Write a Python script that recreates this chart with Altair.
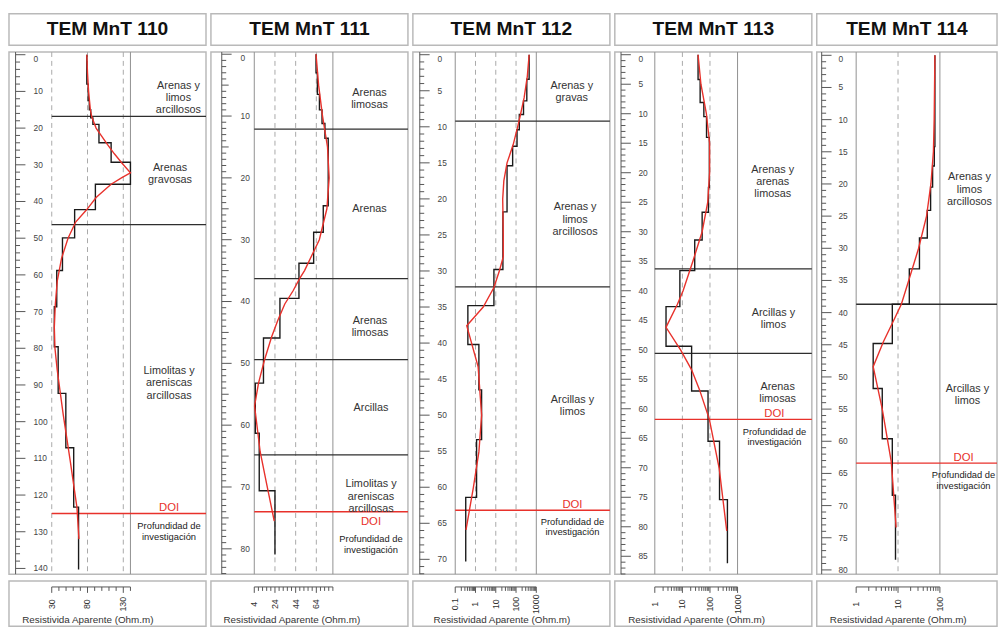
import math
import altair as alt
import pandas as pd

FONT = "Liberation Sans"

# ---------------------------------------------------------------- data
titles = ["TEM MnT 110", "TEM MnT 111", "TEM MnT 112", "TEM MnT 113", "TEM MnT 114"]
axis_titles = ["Resistivida Aparente (Ohm.m)", "Resistividad Aparente (Ohm.m)",
               "Resistividad Aparente (Ohm.m)", "Resistividad Aparente (Ohm.m)",
               "Resistividad Aparente (Ohm.m)"]

res_lo = [30, 4, 0.1, 1, 1]
res_hi = [140, 80, 1000, 1000, 100]
res_log = [False, False, True, True, True]
grid_solid = [[140], [4, 80], [0.1, 1000], [1, 1000], [1, 100]]
grid_dashed = [[30, 80, 130], [24, 44, 64], [1, 10, 100], [10, 100], [10]]
res_labels = [[30, 80, 130], [4, 24, 44, 64], [0.1, 1, 10, 100, 1000],
              [1, 10, 100, 1000], [1, 10, 100]]

depth_labels = [
    [0, 10, 20, 30, 40, 50, 60, 70, 80, 90, 100, 110, 120, 130, 140],
    [0, 10, 20, 30, 40, 50, 60, 70, 80],
    [0, 5, 10, 15, 20, 25, 30, 35, 40, 45, 50, 55, 60, 65, 70],
    [0, 5, 10, 15, 20, 25, 30, 35, 40, 45, 50, 55, 60, 65, 70, 75, 80, 85],
    [0, 5, 10, 15, 20, 25, 30, 35, 40, 45, 50, 55, 60, 65, 70, 75, 80],
]

# layered (step) models: layer top depth (m) and resistivity (Ohm.m)
m110_top = [0, 8, 12.5, 15, 17.2, 19, 24, 29.3, 35.3, 42.2, 49.9, 58.8, 68.7, 79.6, 92.3, 107.1, 123.3]
m110_rho = [79, 81, 82.5, 84.5, 87.5, 96, 113, 140, 91, 62, 45, 37, 33.6, 39, 49.7, 60.7, 67.5]
m110_base = 140.3
m111_top = [0, 3, 6.5, 9, 11.2, 13.6, 24.5, 28.8, 33.8, 39.5, 45.9, 53.2, 61.3, 70.6]
m111_rho = [63.7, 65, 67, 69.5, 72.3, 75.5, 70.7, 61.4, 47.2, 28.8, 12.9, 5, 8.8, 24]
m111_base = 80.9
m112_top = [0, 3.4, 6.4, 8.3, 10.4, 12.7, 15.4, 21.8, 29.8, 34.8, 40.2, 46.5, 53.4, 61.4]
m112_rho = [443, 340, 234, 145, 112, 68, 36, 22.5, 8.1, 0.42, 1.47, 2.0, 1.13, 0.33]
m112_base = 70.3
m113_top = [0, 4.2, 8.1, 10.5, 14, 22.5, 26.7, 31.4, 36.6, 42.7, 49.4, 57.0, 65.5, 75.4]
m113_rho = [37, 44, 60, 75, 95, 88, 52, 28, 8.1, 2.55, 21.6, 85, 222, 429]
m113_base = 86.2
m114_top = [0, 14.2, 17.2, 20.5, 24.1, 28.4, 33.2, 38.7, 44.8, 51.8, 59.6, 68.4]
m114_rho = [76, 73.5, 67, 60, 50, 32.5, 18.6, 7.3, 2.55, 4.2, 7.3, 8.7]
m114_base = 78.4

# smooth (red) curves: depth and resistivity
c110_depth = [0, 5, 10, 15, 17, 20, 22, 24.5, 27, 29.5, 32.2, 33.5, 35.3, 37, 38.9, 42.2, 45.6, 50,
              55.5, 61.7, 68, 74.3, 80, 86, 98, 110.9, 123.5, 132]
c110_rho = [79, 80, 81.5, 84, 86, 92, 99, 108, 117.5, 128, 140, 128, 113, 103, 92, 79, 63.4, 52.8,
            43.7, 37.7, 35, 33.6, 34.5, 37.7, 46, 56, 65.3, 68]
c111_depth = [0, 5, 10, 15, 20, 25, 30, 35, 36.3, 38.3, 40.4, 43.1, 45.7, 49.5, 53.2, 56.9, 64.3, 69.6, 75.5]
c111_rho = [63.7, 66.2, 70, 74.8, 76.4, 74.2, 66.9, 52.6, 47.8, 41.4, 33.5, 26.6, 20.8, 13.8, 8.1, 4.3,
            9.7, 16.1, 23.3]
c112_depth = [0, 3, 6, 8.5, 10, 12.5, 15, 17.5, 20, 25, 28, 30, 32.3, 35, 37.6, 43.3, 50, 55.1, 60.1, 65.9]
c112_rho = [443, 360, 250, 160, 120, 72, 36, 25, 22, 23.5, 23.5, 15, 8.1, 2.4, 0.37, 1.35, 2.0, 1.47,
            0.78, 0.34]
c113_depth = [0, 5, 10, 15, 20, 25, 30, 35, 40, 42.3, 46.2, 50.1, 53.4, 56.8, 61.8, 70.1, 80.7]
c113_rho = [37, 47, 74, 97, 97, 83, 52, 24, 10.6, 6.6, 2.55, 8.8, 21.6, 42, 95, 216, 405]
c114_depth = [0, 10, 15, 20, 25, 30, 35, 38.7, 41.5, 44.5, 48.4, 55, 63.2, 73.4]
c114_rho = [76, 73, 70, 61, 48, 31, 18, 12, 7.5, 4.5, 2.55, 4.2, 6.9, 9.0]

model_tops = [m110_top, m111_top, m112_top, m113_top, m114_top]
model_rhos = [m110_rho, m111_rho, m112_rho, m113_rho, m114_rho]
model_bases = [m110_base, m111_base, m112_base, m113_base, m114_base]
curve_depths = [c110_depth, c111_depth, c112_depth, c113_depth, c114_depth]
curve_rhos = [c110_rho, c111_rho, c112_rho, c113_rho, c114_rho]

boundaries = [[16.8, 46.3], [12.1, 36.3, 49.4, 64.8], [9.2, 32.2], [36.3, 50.6], [38.7]]
doi_depth = [125.0, 74.0, 63.2, 61.8, 63.4]

unit_texts = [
    ["Arenas y\nlimos\narcillosos", "Arenas\ngravosas", "Limolitas y\nareniscas\narcillosas"],
    ["Arenas\nlimosas", "Arenas", "Arenas\nlimosas", "Arcillas", "Limolitas y\nareniscas\narcillosas"],
    ["Arenas y\ngravas", "Arenas y\nlimos\narcillosos", "Arcillas y\nlimos"],
    ["Arenas y\narenas\nlimosas", "Arcillas y\nlimos", "Arenas\nlimosas"],
    ["Arenas y\nlimos\narcillosos", "Arcillas y\nlimos"],
]
unit_depths = [[8.5, 30.9, 86.3], [6.2, 25.0, 43.1, 57.3, 69.6], [4.3, 21.2, 47.9],
               [19.5, 43.8, 56.3], [19.0, 51.9]]
doi_label_depth = [123.6, 75.6, 62.4, 60.9, 62.6]
prof_label_depth = [128.5, 78.5, 64.85, 63.9, 65.3]
doi_label = "DOI"
prof_label = "Profundidad de\ninvestigación"

# ---------------------------------------------------------------- layout (pixels)
H_TITLE, H_MAIN, H_BOT = 32, 530, 46
layout = [
    dict(w=200, p_lo=43.4, p_hi=123.3, ruler=6.7, label=25, y0=2.7, k=3.725, tx=13.4,
         minor=2, medium=None, major=10, dmax=140, text_x=[172, 163.5, 162.5], doi_x=162.5),
    dict(w=200, p_lo=44, p_hi=123.8, ruler=11, label=30, y0=2.2, k=6.276, tx=12.7,
         minor=1, medium=5, major=10, dmax=84, text_x=[161, 161, 161.5, 162.5, 162.5], doi_x=162.5),
    dict(w=200, p_lo=43, p_hi=125.3, ruler=7, label=25, y0=2.7, k=7.318, tx=21,
         minor=1, medium=None, major=5, dmax=72, text_x=[161.3, 164.7, 162], doi_x=162),
    dict(w=200, p_lo=40.6, p_hi=124.6, ruler=6.3, label=24, y0=2.7, k=5.99, tx=13.6,
         minor=1, medium=None, major=5, dmax=88, text_x=[160.3, 161, 165.3], doi_x=162),
    dict(w=183, p_lo=40, p_hi=125, ruler=5, label=22, y0=3.3, k=6.53, tx=13.3,
         minor=1, medium=None, major=5, dmax=80, text_x=[155, 153], doi_x=149),
]

BLACK = "#1a1a1a"
RED = "#e8312b"
GRAY = "#8f8f8f"
RULER = "#555555"


def xspace(i):
    L = layout[i]
    if res_log[i]:
        a, b = math.log10(res_lo[i]), math.log10(res_hi[i])
    else:
        a, b = res_lo[i], res_hi[i]
    s = (L["p_hi"] - L["p_lo"]) / (b - a)
    return a - L["p_lo"] / s, s


def px2val(i, px):
    start, s = xspace(i)
    t = start + px / s
    return 10 ** t if res_log[i] else t


def res_ticks(i):
    if res_log[i]:
        e0, e1 = round(math.log10(res_lo[i])), round(math.log10(res_hi[i]))
        vals = [m * 10.0 ** e for e in range(e0, e1) for m in range(1, 10)]
        return vals + [res_hi[i]]
    step = 10 if i == 0 else 4
    return list(range(res_lo[i], res_hi[i] + 1, step))


def fmt(v):
    return "{:g}".format(v)


def panel(i):
    L = layout[i]
    W = L["w"]
    xdom = [px2val(i, 0), px2val(i, W)]
    xs = alt.Scale(type="log" if res_log[i] else "linear", domain=xdom, nice=False, zero=False)
    dtop = -L["y0"] / L["k"]
    ys = alt.Scale(domain=[dtop, dtop + H_MAIN / L["k"]], reverse=True, nice=False, zero=False)

    def X(f):
        return alt.X(f, scale=xs, axis=None)

    def Y(f):
        return alt.Y(f, scale=ys, axis=None)

    layers = []
    layers.append(alt.Chart(pd.DataFrame({"v": grid_dashed[i]})).mark_rule(
        color="#a9a9a9", strokeWidth=1, strokeDash=[5, 4]).encode(x=X("v:Q")))
    layers.append(alt.Chart(pd.DataFrame({"v": grid_solid[i]})).mark_rule(
        color=GRAY, strokeWidth=1).encode(x=X("v:Q")))

    bdf = pd.DataFrame({"d": boundaries[i], "a": res_lo[i], "b": xdom[1]})
    layers.append(alt.Chart(bdf).mark_rule(color="#2e2e2e", strokeWidth=1.3).encode(
        y=Y("d:Q"), x=X("a:Q"), x2="b:Q"))
    ddf = pd.DataFrame({"d": [doi_depth[i]], "a": [res_lo[i]], "b": [xdom[1]]})
    layers.append(alt.Chart(ddf).mark_rule(color=RED, strokeWidth=1.5).encode(
        y=Y("d:Q"), x=X("a:Q"), x2="b:Q"))

    # step model
    tops, rhos = model_tops[i], model_rhos[i]
    bottoms = tops[1:] + [model_bases[i]]
    rows = []
    for t, b, r in zip(tops, bottoms, rhos):
        rows.append({"d": t, "r": r, "o": len(rows)})
        rows.append({"d": b, "r": r, "o": len(rows)})
    layers.append(alt.Chart(pd.DataFrame(rows)).mark_line(color=BLACK, strokeWidth=1.4).encode(
        x=X("r:Q"), y=Y("d:Q"), order="o:Q"))

    cdf = pd.DataFrame({"d": curve_depths[i], "r": curve_rhos[i],
                        "o": list(range(len(curve_depths[i])))})
    layers.append(alt.Chart(cdf).mark_line(color=RED, strokeWidth=1.4).encode(
        x=X("r:Q"), y=Y("d:Q"), order="o:Q"))

    # depth ruler: spine, ticks, labels
    layers.append(alt.Chart(pd.DataFrame({"v": [px2val(i, L["ruler"])]})).mark_rule(
        color=RULER, strokeWidth=1).encode(x=X("v:Q")))
    trows = []
    d = 0
    while d <= L["dmax"]:
        if d % L["major"] == 0:
            ln = 10
        elif L["medium"] and d % L["medium"] == 0:
            ln = 7
        else:
            ln = 4.5
        trows.append({"d": d, "a": px2val(i, L["ruler"]), "b": px2val(i, L["ruler"] + ln)})
        d += L["minor"]
    layers.append(alt.Chart(pd.DataFrame(trows)).mark_rule(color=RULER, strokeWidth=1).encode(
        y=Y("d:Q"), x=X("a:Q"), x2="b:Q"))
    lab = pd.DataFrame({"d": depth_labels[i], "t": [fmt(v) for v in depth_labels[i]],
                        "x": px2val(i, L["label"])})
    layers.append(alt.Chart(lab[lab.d == 0]).mark_text(
        font=FONT, fontSize=8.5, color="#444444", align="left", baseline="top").encode(
        x=X("x:Q"), y=Y("d:Q"), text="t:N"))
    layers.append(alt.Chart(lab[lab.d != 0]).mark_text(
        font=FONT, fontSize=8.5, color="#444444", align="left", baseline="middle").encode(
        x=X("x:Q"), y=Y("d:Q"), text="t:N"))

    # lithology and DOI texts
    tdf = pd.DataFrame({"t": unit_texts[i], "d": unit_depths[i],
                        "x": [px2val(i, p) for p in L["text_x"]]})
    layers.append(alt.Chart(tdf).mark_text(
        font=FONT, fontSize=11, color="#333333", lineBreak="\n", lineHeight=12.3,
        align="center", baseline="middle", clip=True).encode(x=X("x:Q"), y=Y("d:Q"), text="t:N"))
    xdoi = px2val(i, L["doi_x"])
    layers.append(alt.Chart(pd.DataFrame({"t": [doi_label], "d": [doi_label_depth[i]], "x": [xdoi]}))
                  .mark_text(font=FONT, fontSize=11.5, color=RED, align="center", baseline="middle",
                             clip=True)
                  .encode(x=X("x:Q"), y=Y("d:Q"), text="t:N"))
    layers.append(alt.Chart(pd.DataFrame({"t": [prof_label], "d": [prof_label_depth[i]], "x": [xdoi]}))
                  .mark_text(font=FONT, fontSize=9.5, color="#222222", lineBreak="\n", lineHeight=10.5,
                             align="center", baseline="middle", clip=True)
                  .encode(x=X("x:Q"), y=Y("d:Q"), text="t:N"))

    main = alt.layer(*layers).properties(width=W, height=H_MAIN)

    title = alt.Chart(pd.DataFrame({"t": [titles[i]]})).mark_text(
        font=FONT, fontSize=19.5, fontWeight="bold", color="#111111",
        align="center", baseline="middle").encode(
        x=alt.value(W / 2), y=alt.value(15.5), text="t:N").properties(width=W, height=H_TITLE)

    # bottom resistivity ruler
    tv = res_ticks(i)
    minor_v = [v for v in tv if v not in res_labels[i]]
    blayers = [
        alt.Chart(pd.DataFrame({"a": [res_lo[i]], "b": [res_hi[i]]})).mark_rule(
            color=RULER, strokeWidth=1).encode(x=X("a:Q"), x2="b:Q", y=alt.value(6)),
        alt.Chart(pd.DataFrame({"v": minor_v})).mark_rule(
            color=RULER, strokeWidth=1).encode(x=X("v:Q"), y=alt.value(6), y2=alt.value(10)),
        alt.Chart(pd.DataFrame({"v": res_labels[i]})).mark_rule(
            color=RULER, strokeWidth=1).encode(x=X("v:Q"), y=alt.value(6), y2=alt.value(12)),
        alt.Chart(pd.DataFrame({"v": res_labels[i], "t": [fmt(v) for v in res_labels[i]]})).mark_text(
            font=FONT, fontSize=9, color="#333333", angle=270, align="center", baseline="middle").encode(
            x=X("v:Q"), y=alt.value(23.5), text="t:N"),
        alt.Chart(pd.DataFrame({"t": [axis_titles[i]], "x": [px2val(i, L["tx"])]})).mark_text(
            font=FONT, fontSize=10, color="#333333", align="left", baseline="middle").encode(
            x=X("x:Q"), y=alt.value(40), text="t:N"),
    ]
    bottom = alt.layer(*blayers).properties(width=W, height=H_BOT)

    return alt.vconcat(title, main, bottom, spacing=4)


chart = alt.hconcat(*[panel(i) for i in range(5)], spacing=2).properties(
    padding=0, background="white"
).configure_view(stroke="#b9b9b9", strokeWidth=1.5)

chart.save("out.html", embed_options={"renderer": "svg", "actions": False})
